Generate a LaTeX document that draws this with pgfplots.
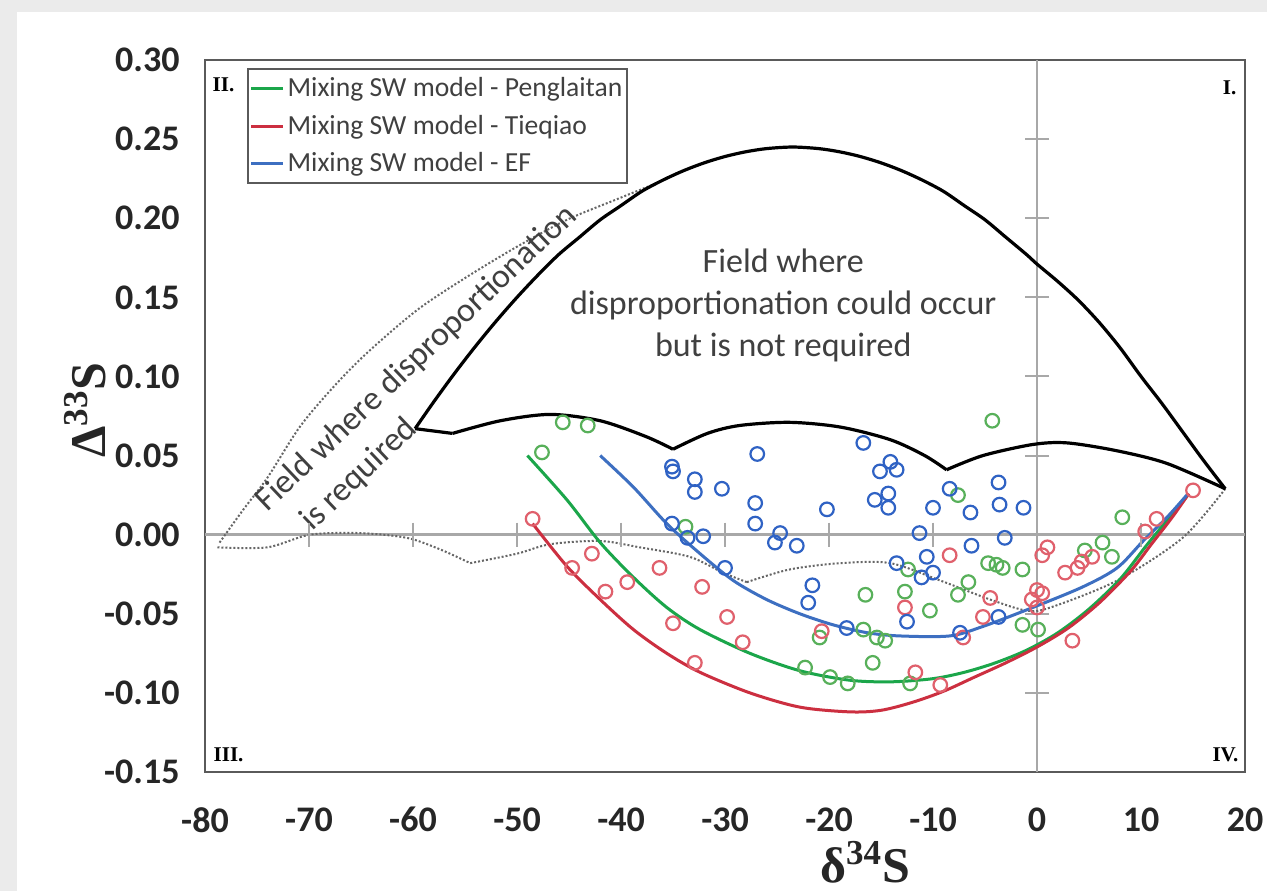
\documentclass[border=0pt]{standalone}
\usepackage{fontspec}
\setmainfont{Carlito}
\newfontfamily\tnr{Liberation Serif}
\usepackage{pgfplots}
\pgfplotsset{compat=1.18}
\definecolor{bggray}{HTML}{EBEBEB}
\definecolor{gline}{HTML}{1BA64A}
\definecolor{rline}{HTML}{CC2F40}
\definecolor{bline}{HTML}{3D6FC1}
\definecolor{gmark}{HTML}{58B05A}
\definecolor{rmark}{HTML}{E0606C}
\definecolor{bmark}{HTML}{2F62C4}
\definecolor{txt}{HTML}{404040}
\definecolor{frame}{HTML}{5A5A5A}
\definecolor{zline}{HTML}{A8A8A8}
\begin{document}
\begin{tikzpicture}
\fill[bggray] (0,0) rectangle (633.5pt,445.5pt);
\fill[white] (8.5pt,0) rectangle (633.5pt,439.5pt);
\begin{axis}[
  at={(102.5pt,59.5pt)}, anchor=south west,
  scale only axis, width=520pt, height=356pt,
  xmin=-80, xmax=20, ymin=-0.15, ymax=0.30,
  clip=false,
  axis line style={draw=frame, line width=1.2pt},
  xtick={-80,-70,-60,-50,-40,-30,-20,-10,0,10,20},
  xticklabels={-80,-70,-60,-50,-40,-30,-20,-10,0,10,20},
  ytick={-0.15,-0.10,-0.05,0,0.05,0.10,0.15,0.20,0.25,0.30},
  yticklabels={-0.15,-0.10,-0.05,0.00,0.05,0.10,0.15,0.20,0.25,0.30},
  major tick length=0pt, tick style={draw=none},
  tick label style={font=\fontsize{18}{20}\selectfont\bfseries, text=black!85, inner sep=0pt},
  yticklabel style={anchor=east, xshift=-12.5pt},
  xticklabel style={anchor=north, yshift=-17.5pt},
  legend style={at={(0.040,0.989)}, anchor=north west, draw=frame, line width=1pt,
    font=\fontsize{13.8}{15}\selectfont, text=txt, inner xsep=1pt, inner ysep=3pt, row sep=4.5pt,
    nodes={inner sep=1.5pt}},
  legend cell align=left,
  legend image code/.code={\draw[#1, line width=1.5pt] (0pt,0pt) -- (16pt,0pt);},
]
% zero lines and their ticks
\addplot[forget plot, zline, line width=1.2pt] coordinates {(-80,0) (20,0)};
\addplot[forget plot, zline, line width=1.2pt] coordinates {(0,-0.15) (0,0.30)};
\addplot[forget plot, only marks, zline, mark=|, mark size=6pt, line width=1pt]
  coordinates {(-70,0) (-60,0) (-50,0) (-40,0) (-30,0) (-20,0) (-10,0) (10,0)};
\addplot[forget plot, only marks, zline, mark=-, mark size=6pt, line width=1pt]
  coordinates {(0,-0.10) (0,-0.05) (0,0.05) (0,0.10) (0,0.15) (0,0.20) (0,0.25)};
% dotted field (disproportionation required)
\addplot[forget plot, black!60, densely dotted, line width=1pt, smooth, tension=0.5] coordinates {
(-78.6,-0.005) (-76.3,0.016) (-74.0,0.036) (-70.9,0.068) (-67.7,0.093) (-64.4,0.115)
(-59.6,0.142) (-54.8,0.163) (-50.0,0.182) (-45.2,0.199) (-40.4,0.212) (-36.3,0.223) (-34.5,0.229)};
\addplot[forget plot, black!60, densely dotted, line width=1pt, smooth, tension=0.5] coordinates {
(-78.8,-0.008) (-74.0,-0.008) (-69.9,0.000) (-65.1,0.001) (-60.6,-0.002) (-57.5,-0.009) (-54.5,-0.018)};
\addplot[forget plot, black!60, densely dotted, line width=1pt, smooth, tension=0.5] coordinates {
(-54.5,-0.018) (-50.0,-0.012) (-46.8,-0.006) (-42.0,-0.004) (-38.2,-0.008) (-33.4,-0.014) (-30.2,-0.024) (-27.9,-0.030)};
\addplot[forget plot, black!60, densely dotted, line width=1pt, smooth, tension=0.5] coordinates {
(-27.9,-0.030) (-23.8,-0.022) (-18.9,-0.018) (-14.1,-0.018) (-9.3,-0.029) (-4.5,-0.041)
(-1.0,-0.048) (1.3,-0.046) (7.7,-0.029) (14.0,-0.002) (18.1,0.029)};
% black envelope
\addplot[forget plot, black, line width=1.6pt, smooth] coordinates {
(-59.8,0.067) (-58,0.084) (-56,0.102) (-54,0.119) (-52,0.135) (-50,0.150) (-48,0.164)
(-46,0.177) (-44,0.188) (-42,0.199) (-40,0.208) (-38,0.217) (-36,0.224) (-34,0.230)
(-32,0.235) (-30,0.239) (-28,0.242) (-26,0.244) (-23.5,0.245) (-21,0.244) (-19,0.242)
(-17,0.239) (-15,0.235) (-13,0.230) (-11,0.224) (-9,0.217) (-7,0.208) (-5,0.199)
(-3,0.188) (-1,0.177) (0,0.171) (2,0.160) (4,0.148) (6,0.134) (8,0.118) (10,0.100)
(12,0.083) (14,0.065) (16,0.047) (18.1,0.029)};
\addplot[forget plot, black, line width=1.6pt] coordinates {(-59.8,0.067) (-56.2,0.064)};
\addplot[forget plot, black, line width=1.6pt, smooth, tension=0.5] coordinates {
(-56.2,0.064) (-51.6,0.072) (-46.8,0.076) (-42.0,0.072) (-37.6,0.062) (-35.0,0.054)};
\addplot[forget plot, black, line width=1.6pt, smooth, tension=0.5] coordinates {
(-35.0,0.054) (-31.7,0.064) (-28.6,0.069) (-23.8,0.071) (-18.9,0.068) (-14.1,0.060) (-10.8,0.050) (-8.7,0.041)};
\addplot[forget plot, black, line width=1.6pt, smooth, tension=0.5] coordinates {
(-8.7,0.041) (-5.2,0.050) (-0.4,0.057) (2.9,0.058) (7.7,0.053) (12.5,0.045) (18.1,0.029)};
% model curves
\addplot[gline, line width=1.5pt, smooth] coordinates {
(-49.0,0.050) (-45.2,0.022) (-42.0,-0.005) (-38.8,-0.027) (-35.6,-0.046) (-32.4,-0.060)
(-27.6,-0.075) (-22.8,-0.086) (-18.0,-0.092) (-14.0,-0.093) (-10.0,-0.091) (-7.0,-0.087)
(-4.0,-0.081) (-1.0,-0.073) (2.0,-0.062) (5.0,-0.047) (8.0,-0.028) (10.5,-0.007) (12.5,0.009) (14.5,0.025)};
\addlegendentry{Mixing SW model - Penglaitan}
\addplot[rline, line width=1.5pt, smooth] coordinates {
(-48.5,0.007) (-45.2,-0.020) (-42.0,-0.041) (-38.8,-0.060) (-35.6,-0.075) (-32.4,-0.087)
(-27.6,-0.100) (-22.8,-0.109) (-18.0,-0.112) (-15.0,-0.111) (-12.0,-0.106) (-9.0,-0.099)
(-6.0,-0.090) (-3.0,-0.081) (0.0,-0.071) (3.0,-0.059) (6.0,-0.043) (9.0,-0.023) (11.0,-0.006) (13.0,0.011) (14.6,0.026)};
\addlegendentry{Mixing SW model - Tieqiao}
\addplot[bline, line width=1.5pt, smooth] coordinates {
(-42.0,0.050) (-38.8,0.030) (-35.6,0.007) (-32.4,-0.012) (-29.2,-0.029) (-26.0,-0.041)
(-22.8,-0.050) (-19.6,-0.057) (-16.3,-0.062) (-13.2,-0.064) (-8.4,-0.064) (-5.2,-0.058)
(-0.4,-0.046) (4.4,-0.033) (7.7,-0.021) (10.2,-0.004) (12.5,0.011) (14.4,0.025)};
\addlegendentry{Mixing SW model - EF}
% data points
\addplot[forget plot, only marks, mark=o, mark size=3.4pt, gmark, line width=1.1pt] coordinates {
(-45.6,0.071) (-43.2,0.069) (-47.6,0.052) (-33.8,0.005) (-16.5,-0.038) (-20.9,-0.065)
(-16.7,-0.060) (-15.4,-0.065) (-14.6,-0.067) (-15.8,-0.081) (-22.3,-0.084) (-19.9,-0.090)
(-18.2,-0.094) (-4.3,0.072) (-7.6,0.025) (8.2,0.011) (-12.4,-0.022) (-12.7,-0.036)
(-10.3,-0.048) (-6.6,-0.030) (-7.6,-0.038) (-4.7,-0.018) (-3.9,-0.019) (-3.3,-0.021)
(-1.4,-0.022) (-1.4,-0.057) (0.1,-0.060) (-12.2,-0.094) (4.6,-0.010) (6.3,-0.005) (7.2,-0.014)};
\addplot[forget plot, only marks, mark=o, mark size=3.4pt, rmark, line width=1.1pt] coordinates {
(-48.5,0.010) (-42.8,-0.012) (-44.7,-0.021) (-39.4,-0.030) (-41.5,-0.036) (-36.3,-0.021)
(-32.2,-0.033) (-35.0,-0.056) (-29.8,-0.052) (-28.3,-0.068) (-32.9,-0.081) (-20.7,-0.061)
(15.0,0.028) (11.5,0.010) (10.4,0.002) (1.0,-0.008) (0.5,-0.013) (-8.4,-0.013)
(2.7,-0.024) (3.9,-0.021) (4.3,-0.017) (5.3,-0.014) (-12.7,-0.046) (-4.5,-0.040)
(0.0,-0.035) (0.5,-0.037) (-0.5,-0.041) (0.0,-0.046) (-5.2,-0.052) (-7.1,-0.065)
(-11.7,-0.087) (-9.3,-0.095) (3.4,-0.067)};
\addplot[forget plot, only marks, mark=o, mark size=3.4pt, bmark, line width=1.1pt] coordinates {
(-35.1,0.043) (-35.0,0.040) (-32.9,0.035) (-32.9,0.027) (-30.3,0.029) (-26.9,0.051)
(-27.1,0.020) (-27.1,0.007) (-35.1,0.007) (-33.6,-0.002) (-32.1,-0.001) (-24.7,0.001)
(-25.2,-0.005) (-23.1,-0.007) (-20.2,0.016) (-30.0,-0.021) (-21.6,-0.032) (-22.0,-0.043)
(-18.3,-0.059) (-16.7,0.058) (-15.1,0.040) (-14.1,0.046) (-13.5,0.041) (-15.6,0.022)
(-14.3,0.026) (-14.3,0.017) (-13.5,-0.018) (-11.3,0.001) (-10.0,0.017) (-8.4,0.029)
(-10.6,-0.014) (-10.0,-0.024) (-11.1,-0.027) (-12.5,-0.055) (-6.4,0.014) (-6.3,-0.007)
(-3.7,0.033) (-3.6,0.019) (-3.1,-0.002) (-1.3,0.017) (-7.4,-0.062) (-3.7,-0.052)};
% annotations
\node[align=center, text=txt, font=\fontsize{17}{21}\selectfont] at (axis cs:-24.4,0.145)
  {Field where\\disproportionation could occur\\but is not required};
\node[rotate=43.5, anchor=base west, inner sep=0pt, text=txt, font=\fontsize{17}{20}\selectfont]
  at (axis cs:-74.0,0.0137) {Field where disproportionation};
\node[rotate=43.5, anchor=base west, inner sep=0pt, text=txt, font=\fontsize{17}{20}\selectfont]
  at (axis cs:-69.7,0.0016) {is required};
\node[anchor=north west, inner sep=0pt, font=\tnr\bfseries\fontsize{10.5}{12}\selectfont] at (rel axis cs:0.007,0.976) {II.};
\node[anchor=north east, inner sep=0pt, font=\tnr\bfseries\fontsize{10.5}{12}\selectfont] at (rel axis cs:0.992,0.972) {I.};
\node[anchor=south west, inner sep=0pt, font=\tnr\bfseries\fontsize{10.5}{12}\selectfont] at (rel axis cs:0.008,0.014) {III.};
\node[anchor=south east, inner sep=0pt, font=\tnr\bfseries\fontsize{10.5}{12}\selectfont] at (rel axis cs:0.994,0.014) {IV.};
\end{axis}
\node[rotate=90, text=black!85, font=\tnr\bfseries\fontsize{25}{28}\selectfont] at (42.5pt,240.5pt) {Δ\textsuperscript{33}S};
\node[text=black!85, font=\tnr\bfseries\fontsize{25}{28}\selectfont] at (432.5pt,14.5pt) {δ\textsuperscript{34}S};
\pgfresetboundingbox
\useasboundingbox (0,0) rectangle (633.5pt,445.5pt);
\end{tikzpicture}
\end{document}
